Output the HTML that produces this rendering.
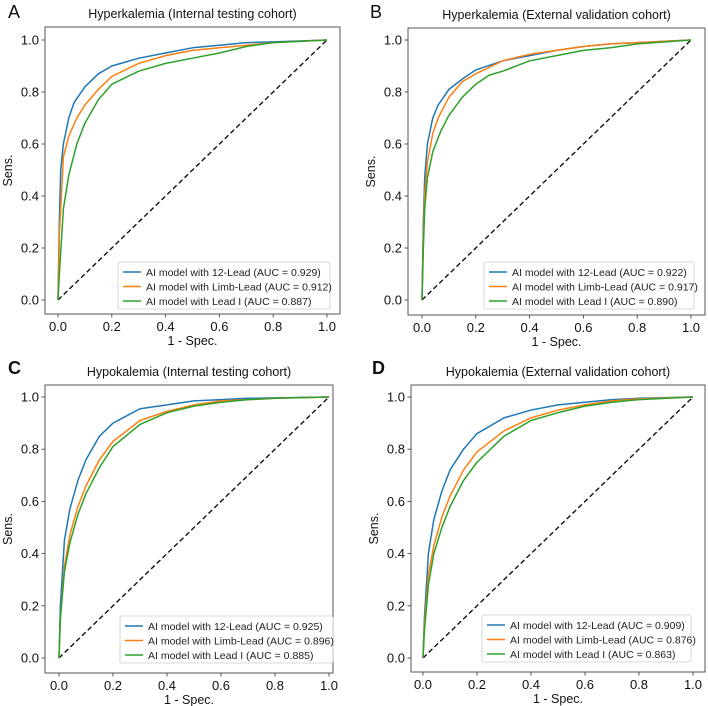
<!DOCTYPE html>
<html><head><meta charset="utf-8"><style>
body{margin:0;background:#fff;}
svg{display:block;font-family:"Liberation Sans",sans-serif;}
</style></head><body>
<svg id="fig" width="708" height="706" viewBox="0 0 708 706" xmlns="http://www.w3.org/2000/svg"></svg>
<script>
const panelLetters = ["A","B","C","D"];
const panelTitles = ["Hyperkalemia (Internal testing cohort)","Hyperkalemia (External validation cohort)","Hypokalemia (Internal testing cohort)","Hypokalemia (External validation cohort)"];
const seriesNames = ["AI model with 12-Lead","AI model with Limb-Lead","AI model with Lead I"];
const aucA = ["0.929","0.912","0.887"];
const aucB = ["0.922","0.917","0.890"];
const aucC = ["0.925","0.896","0.885"];
const aucD = ["0.909","0.876","0.863"];
const tickValues = [0,0.2,0.4,0.6,0.8,1.0];
const tickLabels = ["0.0","0.2","0.4","0.6","0.8","1.0"];
// ROC points [fpr, tpr]
const A_blue = [[0,0],[0.005,0.3],[0.01,0.5],[0.02,0.6],[0.04,0.7],[0.06,0.76],[0.1,0.82],[0.15,0.87],[0.2,0.9],[0.3,0.93],[0.4,0.95],[0.5,0.97],[0.6,0.98],[0.7,0.99],[0.8,0.993],[1,1]];
const A_orange = [[0,0],[0.005,0.25],[0.02,0.55],[0.04,0.63],[0.07,0.7],[0.1,0.75],[0.15,0.81],[0.2,0.86],[0.3,0.91],[0.4,0.94],[0.5,0.96],[0.6,0.97],[0.7,0.98],[0.8,0.99],[1,1]];
const A_green = [[0,0],[0.005,0.1],[0.02,0.35],[0.04,0.48],[0.07,0.6],[0.1,0.68],[0.15,0.77],[0.2,0.83],[0.3,0.88],[0.4,0.91],[0.5,0.93],[0.6,0.95],[0.7,0.975],[0.8,0.99],[1,1]];
const B_blue = [[0,0],[0.005,0.3],[0.01,0.47],[0.02,0.6],[0.04,0.7],[0.06,0.75],[0.1,0.81],[0.15,0.85],[0.2,0.885],[0.3,0.92],[0.4,0.94],[0.5,0.96],[0.6,0.975],[0.7,0.985],[0.8,0.99],[1,1]];
const B_orange = [[0,0],[0.005,0.25],[0.01,0.4],[0.02,0.53],[0.04,0.64],[0.06,0.7],[0.1,0.78],[0.15,0.84],[0.2,0.87],[0.3,0.92],[0.4,0.945],[0.5,0.96],[0.6,0.975],[0.7,0.985],[0.8,0.99],[1,1]];
const B_green = [[0,0],[0.005,0.2],[0.01,0.35],[0.02,0.47],[0.04,0.57],[0.07,0.65],[0.1,0.71],[0.15,0.78],[0.2,0.83],[0.25,0.865],[0.3,0.88],[0.4,0.92],[0.5,0.94],[0.6,0.96],[0.7,0.97],[0.8,0.985],[1,1]];
const C_blue = [[0,0],[0.005,0.2],[0.02,0.45],[0.04,0.57],[0.07,0.68],[0.1,0.76],[0.15,0.85],[0.2,0.9],[0.3,0.955],[0.4,0.97],[0.5,0.985],[0.6,0.99],[0.7,0.995],[1,1]];
const C_orange = [[0,0],[0.005,0.15],[0.02,0.35],[0.04,0.47],[0.07,0.58],[0.1,0.66],[0.15,0.76],[0.2,0.83],[0.3,0.91],[0.4,0.945],[0.5,0.97],[0.6,0.985],[0.7,0.99],[0.8,0.995],[1,1]];
const C_green = [[0,0],[0.005,0.15],[0.02,0.33],[0.04,0.44],[0.07,0.55],[0.1,0.63],[0.15,0.73],[0.2,0.81],[0.3,0.895],[0.4,0.94],[0.5,0.965],[0.6,0.98],[0.7,0.99],[0.8,0.995],[1,1]];
const D_blue = [[0,0],[0.005,0.15],[0.02,0.4],[0.04,0.53],[0.07,0.64],[0.1,0.72],[0.15,0.8],[0.2,0.86],[0.3,0.92],[0.4,0.95],[0.5,0.97],[0.6,0.98],[0.7,0.99],[0.8,0.995],[1,1]];
const D_orange = [[0,0],[0.005,0.12],[0.02,0.32],[0.04,0.43],[0.07,0.54],[0.1,0.62],[0.15,0.72],[0.2,0.79],[0.3,0.87],[0.4,0.92],[0.5,0.95],[0.6,0.97],[0.7,0.985],[0.8,0.993],[1,1]];
const D_green = [[0,0],[0.005,0.1],[0.02,0.28],[0.04,0.4],[0.07,0.5],[0.1,0.58],[0.15,0.68],[0.2,0.75],[0.3,0.85],[0.4,0.91],[0.5,0.94],[0.6,0.965],[0.7,0.98],[0.8,0.99],[1,1]];

const colors = ["#1f77b4","#ff7f0e","#2ca02c"];
const NS = "http://www.w3.org/2000/svg";
const svg = document.getElementById("fig");
function mk(tag, attrs, parent, text){
  const e = document.createElementNS(NS, tag);
  for (const k in attrs) e.setAttribute(k, attrs[k]);
  if (text !== undefined) e.textContent = text;
  parent.appendChild(e);
  return e;
}
const layouts = [
  {frame:[45,27,340,314], x0:58, x1:327, y1:40, y0:300, leg:[118,262,212], lx:8, ly:18},
  {frame:[408,28,705,315], x0:422, x1:691, y1:40, y0:300, leg:[484,262,210], lx:370, ly:18},
  {frame:[45,385,333,673], x0:59, x1:329, y1:397, y0:658, leg:[120,616,213], lx:8, ly:374},
  {frame:[411,385,705,672], x0:423, x1:693, y1:397, y0:658, leg:[482,615,209], lx:372, ly:374}
];
const allSeries = [[A_blue,A_orange,A_green],[B_blue,B_orange,B_green],[C_blue,C_orange,C_green],[D_blue,D_orange,D_green]];
const allAuc = [aucA,aucB,aucC,aucD];

layouts.forEach((L, p) => {
  const g = mk("g", {}, svg);
  
  
  const sx = v => L.x0 + v * (L.x1 - L.x0);
  const sy = v => L.y0 - v * (L.y0 - L.y1);
  const [fl, ft, fr, fb] = L.frame;
  const letter = mk("text", {x:L.lx, y:L.ly, "font-size":18, fill:"#111", "font-weight": p>=2?"bold":"normal"}, g, panelLetters[p]);
  
  
  const title = mk("text", {x:(fl+fr)/2, y:ft-9, "font-size":12.5, "text-anchor":"middle", fill:"#111"}, g, panelTitles[p]);
  
  
  const fr_ = mk("rect", {x:fl, y:ft, width:fr-fl, height:fb-ft, fill:"none", stroke:"#444", "stroke-width":0.9}, g);
  
  
  tickValues.forEach((t, i) => {
    mk("line", {x1:sx(t), x2:sx(t), y1:fb, y2:fb+3.5, stroke:"#444", "stroke-width":0.9}, g);
    const xl = mk("text", {x:sx(t), y:fb+17, "font-size":13, "text-anchor":"middle", fill:"#111"}, g, tickLabels[i]);
    
    
    mk("line", {x1:fl-3.5, x2:fl, y1:sy(t), y2:sy(t), stroke:"#444", "stroke-width":0.9}, g);
    const yl = mk("text", {x:fl-6, y:sy(t)+4.5, "font-size":13, "text-anchor":"end", fill:"#111"}, g, tickLabels[i]);
    
    
  });
  const xt = mk("text", {x:(fl+fr)/2, y:fb+31, "font-size":12.5, "text-anchor":"middle", fill:"#111"}, g, "1 - Spec.");
  
  
  const ytx = fl-33, yty = (ft+fb)/2;
  const yt = mk("text", {x:ytx, y:yty, "font-size":12.5, "text-anchor":"middle", fill:"#111", transform:`rotate(-90 ${ytx} ${yty})`}, g, "Sens.");
  
  
  const diag = mk("line", {x1:sx(0), y1:sy(0), x2:sx(1), y2:sy(1), stroke:"#111", "stroke-width":1.4, "stroke-dasharray":"5,3"}, g);
  
  
  allSeries[p].forEach((pts, s) => {
    const d = pts.map((q, i) => (i ? "L" : "M") + sx(q[0]).toFixed(2) + "," + sy(q[1]).toFixed(2)).join("");
    const path = mk("path", {d:d, fill:"none", stroke:colors[s], "stroke-width":1.5, "stroke-linejoin":"round"}, g);
    
    
  });
  const [lx, ly, lw] = L.leg;
  const lg = mk("g", {}, g);
  
  
  mk("rect", {x:lx, y:ly, width:lw, height:47, rx:2, fill:"#fff", stroke:"#ccc", "stroke-width":0.8}, lg);
  seriesNames.forEach((n, s) => {
    const yy = ly + 10 + s * 14.5;
    mk("line", {x1:lx+5, x2:lx+23, y1:yy, y2:yy, stroke:colors[s], "stroke-width":1.5}, lg);
    const t = mk("text", {x:lx+28, y:yy+3.8, "font-size":10.5, fill:"#222"}, lg, n + " (AUC = " + allAuc[p][s] + ")");
    
    
  });
});
</script>
</body></html>
